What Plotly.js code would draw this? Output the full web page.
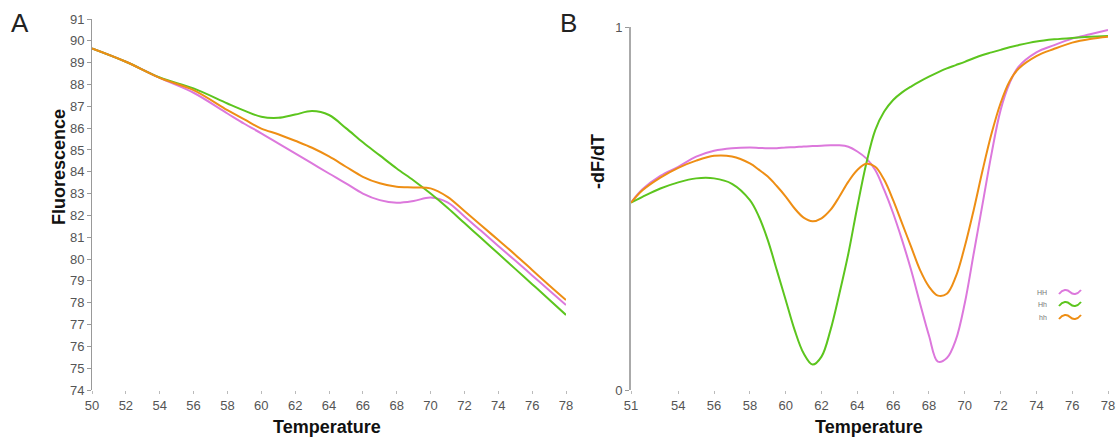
<!DOCTYPE html>
<html>
<head>
<meta charset="utf-8">
<script src="https://cdn.plot.ly/plotly-3.0.1.min.js"></script>
<style>html,body{margin:0;padding:0;background:#fff;}#chart{width:1116px;height:439px;}</style>
</head>
<body>
<div id="chart"></div>
<script>
// ---------- Panel A: melting curves (Fluorescence) ----------
const tempA = [50, 52, 54, 56, 58, 59, 60, 61, 62, 63, 64, 65, 66, 67, 68, 69, 70, 71, 72, 73, 74, 75, 76, 77, 78];
const fluoHH = [89.65, 89.04, 88.30, 87.62, 86.67, 86.20, 85.76, 85.30, 84.84, 84.38, 83.92, 83.47, 83.00, 82.70, 82.58, 82.66, 82.82, 82.60, 81.95, 81.28, 80.60, 79.93, 79.25, 78.57, 77.89];
const fluoHh = [89.65, 89.04, 88.32, 87.82, 87.13, 86.80, 86.52, 86.47, 86.62, 86.78, 86.60, 86.00, 85.35, 84.75, 84.15, 83.60, 83.00, 82.35, 81.65, 80.95, 80.25, 79.55, 78.85, 78.15, 77.44];
const fluohh = [89.65, 89.04, 88.30, 87.74, 86.82, 86.40, 85.98, 85.72, 85.42, 85.10, 84.70, 84.23, 83.77, 83.47, 83.31, 83.28, 83.24, 82.85, 82.20, 81.54, 80.87, 80.20, 79.50, 78.80, 78.12];
const yTicksA = [74, 75, 76, 77, 78, 79, 80, 81, 82, 83, 84, 85, 86, 87, 88, 89, 90, 91];
const xTicksA = [50, 52, 54, 56, 58, 60, 62, 64, 66, 68, 70, 72, 74, 76, 78];

// ---------- Panel B: derivative curves (-dF/dT) ----------
const tempB = [51.36, 52, 53, 54, 55, 56, 57, 58, 58.5, 59, 59.5, 60, 60.5, 61, 61.5, 62, 62.5, 63, 63.5, 64, 64.5, 65, 65.5, 66, 66.5, 67, 67.5, 68, 68.5, 69, 69.5, 70, 70.5, 71, 71.5, 72, 72.5, 73, 74, 75, 76, 77, 78];
const dHH = [0.516, 0.553, 0.590, 0.615, 0.643, 0.659, 0.666, 0.668, 0.667, 0.666, 0.666, 0.668, 0.669, 0.671, 0.672, 0.673, 0.674, 0.674, 0.670, 0.657, 0.638, 0.606, 0.551, 0.487, 0.413, 0.331, 0.239, 0.150, 0.078, 0.088, 0.138, 0.239, 0.376, 0.514, 0.652, 0.771, 0.845, 0.890, 0.930, 0.950, 0.968, 0.980, 0.992];
const dHh = [0.516, 0.532, 0.555, 0.572, 0.583, 0.583, 0.568, 0.523, 0.478, 0.413, 0.331, 0.248, 0.165, 0.101, 0.070, 0.092, 0.165, 0.266, 0.376, 0.505, 0.624, 0.716, 0.767, 0.799, 0.820, 0.836, 0.850, 0.863, 0.875, 0.886, 0.895, 0.904, 0.914, 0.923, 0.930, 0.937, 0.944, 0.950, 0.960, 0.966, 0.970, 0.973, 0.975];
const dhh = [0.516, 0.550, 0.585, 0.612, 0.632, 0.645, 0.643, 0.624, 0.607, 0.588, 0.562, 0.533, 0.500, 0.475, 0.465, 0.473, 0.496, 0.533, 0.574, 0.606, 0.623, 0.615, 0.579, 0.523, 0.459, 0.395, 0.331, 0.285, 0.260, 0.265, 0.312, 0.395, 0.496, 0.606, 0.707, 0.790, 0.850, 0.885, 0.920, 0.940, 0.957, 0.967, 0.973];
const xTickValsB = [51.36, 54, 56, 58, 60, 62, 64, 66, 68, 70, 72, 74, 76, 78];
const xTickTextB = ["51", "54", "56", "58", "60", "62", "64", "66", "68", "70", "72", "74", "76", "78"];
const yTicksB = [0, 1];

const genotypes = ["HH", "Hh", "hh"];
const colors = ["#dc78dc", "#5cc51e", "#ee8e14"];

// ---------- geometry helpers (pixel -> paper) ----------
const L = 92, R = 8, T = 19, B = 49, W = 1116, H = 439;
const PW = W - L - R, PH = H - T - B;
const px = x => (x - L) / PW;
const py = y => (H - B - y) / PH;

const traces = [];
[fluoHH, fluoHh, fluohh].forEach((ys, i) => {
  traces.push({x: tempA, y: ys, type: 'scatter', mode: 'lines', xaxis: 'x', yaxis: 'y',
    line: {color: colors[i], width: 2, shape: 'spline', smoothing: 1}, showlegend: false, name: genotypes[i]});
});
[dHH, dHh, dhh].forEach((ys, i) => {
  traces.push({x: tempB, y: ys, type: 'scatter', mode: 'lines', xaxis: 'x2', yaxis: 'y2',
    line: {color: colors[i], width: 2, shape: 'spline', smoothing: 1}, showlegend: false, name: genotypes[i]});
});

const tickFont = {family: 'Liberation Sans, Arial, sans-serif', size: 13, color: '#555'};
const titleFont = {family: 'Liberation Sans, Arial, sans-serif', size: 18, color: '#111'};

function ann(text, x, y, font, extra) {
  return Object.assign({text: text, x: px(x), y: py(y), xref: 'paper', yref: 'paper', showarrow: false,
    xanchor: 'center', yanchor: 'middle', font: font}, extra || {});
}

const annotations = [
  ann('A', 20, 23, {family: 'Liberation Sans, Arial', size: 26, color: '#222'}),
  ann('B', 568, 23, {family: 'Liberation Sans, Arial', size: 26, color: '#222'}),
  ann('<b>Fluorescence</b>', 59, 167, titleFont, {textangle: -90}),
  ann('<b>-dF/dT</b>', 598, 162, titleFont, {textangle: -90}),
  ann('<b>Temperature</b>', 327, 427, titleFont),
  ann('<b>Temperature</b>', 869, 427, titleFont)
];

// custom legend: label then squiggle
const shapes = [];
const legY = [292, 304, 317];
genotypes.forEach((g, i) => {
  annotations.push(ann(g, 1049, legY[i], {family: 'Liberation Sans, Arial', size: 7, color: '#777'}, {xanchor: 'right'}));
  const x0 = 1059, y0 = legY[i];
  const pts = [[x0, y0 + 2], [x0 + 4, y0 - 3], [x0 + 8, y0 - 3], [x0 + 11, y0], [x0 + 14, y0 + 3], [x0 + 18, y0 + 3], [x0 + 22, y0 - 2]];
  const path = 'M ' + px(pts[0][0]) + ',' + py(pts[0][1]) +
    ' C ' + px(pts[1][0]) + ',' + py(pts[1][1]) + ' ' + px(pts[2][0]) + ',' + py(pts[2][1]) + ' ' + px(pts[3][0]) + ',' + py(pts[3][1]) +
    ' C ' + px(pts[4][0]) + ',' + py(pts[4][1]) + ' ' + px(pts[5][0]) + ',' + py(pts[5][1]) + ' ' + px(pts[6][0]) + ',' + py(pts[6][1]);
  shapes.push({type: 'path', xref: 'paper', yref: 'paper', path: path, line: {color: colors[i], width: 2}});
});

const layout = {
  width: W, height: H,
  margin: {l: L, r: R, t: T, b: B},
  paper_bgcolor: '#fff', plot_bgcolor: '#fff',
  showlegend: false,
  xaxis: {domain: [0, px(566)], range: [50, 78], tickvals: xTicksA, ticks: 'outside', ticklen: 3, tickcolor: '#bbb',
    showline: false, showgrid: false, zeroline: false, tickfont: tickFont},
  yaxis: {domain: [0, 1], range: [74, 91], tickvals: yTicksA, ticks: 'outside', ticklen: 4, tickcolor: '#999',
    showline: true, linecolor: '#999', linewidth: 1, showgrid: false, zeroline: false, tickfont: tickFont, anchor: 'x'},
  xaxis2: {domain: [px(631), 1], range: [51.36, 78], tickvals: xTickValsB, ticktext: xTickTextB, ticks: 'outside', ticklen: 3, tickcolor: '#bbb',
    showline: false, showgrid: false, zeroline: false, tickfont: tickFont, anchor: 'y2'},
  yaxis2: {domain: [0, py(27)], range: [0, 1], tickvals: yTicksB, ticks: 'outside', ticklen: 4, tickcolor: '#999',
    showline: true, linecolor: '#aaa', linewidth: 2, showgrid: false, zeroline: false, tickfont: tickFont, anchor: 'x2'},
  annotations: annotations,
  shapes: shapes
};

Plotly.newPlot('chart', traces, layout, {displayModeBar: false, staticPlot: true});
</script>
</body>
</html>
